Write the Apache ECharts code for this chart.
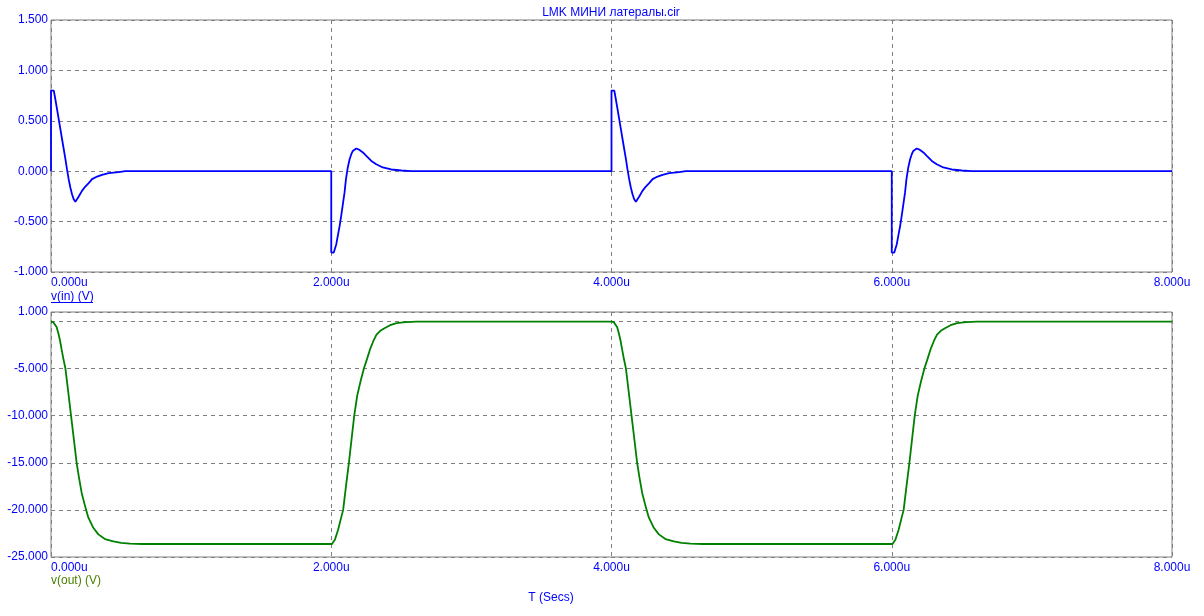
<!DOCTYPE html>
<html>
<head>
<meta charset="utf-8">
<script src="https://cdn.jsdelivr.net/npm/echarts@6/dist/echarts.min.js"></script>
<style>
html,body{margin:0;padding:0;background:#fff;}
#chart{width:1204px;height:616px;}
</style>
</head>
<body>
<div id="chart"></div>
<script>
// ---- data (time in µs, volts) ----
const xTicks = [0, 2, 4, 6, 8];
const vinTicks = [-1, -0.5, 0, 0.5, 1, 1.5];
const voutTicks = [-25, -20, -15, -10, -5, 1];

const vinPulse0 = [[0,0],[0,0.80],[0.01,0.81],[0.02,0.80],[0.031,0.714],[0.043,0.615],[0.055,0.516],[0.067,0.417],[0.079,0.317],[0.091,0.218],[0.103,0.119],[0.114,0.02],[0.126,-0.079],[0.138,-0.162],[0.15,-0.228],[0.162,-0.278],[0.174,-0.304],[0.186,-0.298],[0.198,-0.251],[0.221,-0.195],[0.245,-0.152],[0.269,-0.119],[0.293,-0.079],[0.329,-0.053],[0.364,-0.036],[0.412,-0.02],[0.483,-0.01],[0.53,0]];
const vinPulse2 = [[2,0],[2,-0.807],[2.018,-0.807],[2.024,-0.79],[2.036,-0.724],[2.047,-0.64],[2.059,-0.549],[2.071,-0.443],[2.083,-0.327],[2.095,-0.211],[2.105,-0.079],[2.118,0.037],[2.131,0.119],[2.143,0.169],[2.154,0.201],[2.166,0.218],[2.178,0.225],[2.19,0.222],[2.202,0.211],[2.226,0.186],[2.25,0.152],[2.286,0.102],[2.321,0.069],[2.368,0.037],[2.428,0.017],[2.5,0.007],[2.57,0]];
const vinPulse4 = [[4,0],[4,0.80],[4.01,0.81],[4.02,0.80],[4.031,0.714],[4.043,0.615],[4.055,0.516],[4.067,0.417],[4.079,0.317],[4.091,0.218],[4.103,0.119],[4.114,0.02],[4.126,-0.079],[4.138,-0.162],[4.15,-0.228],[4.162,-0.278],[4.174,-0.304],[4.186,-0.298],[4.198,-0.251],[4.221,-0.195],[4.245,-0.152],[4.269,-0.119],[4.293,-0.079],[4.329,-0.053],[4.364,-0.036],[4.412,-0.02],[4.483,-0.01],[4.53,0]];
const vinPulse6 = [[6,0],[6,-0.807],[6.018,-0.807],[6.024,-0.79],[6.036,-0.724],[6.047,-0.64],[6.059,-0.549],[6.071,-0.443],[6.083,-0.327],[6.095,-0.211],[6.105,-0.079],[6.118,0.037],[6.131,0.119],[6.143,0.169],[6.154,0.201],[6.166,0.218],[6.178,0.225],[6.19,0.222],[6.202,0.211],[6.226,0.186],[6.25,0.152],[6.286,0.102],[6.321,0.069],[6.368,0.037],[6.428,0.017],[6.5,0.007],[6.57,0],[8,0]];

const voutFall0 = [[0,-0.05],[0.015,-0.06],[0.028,-0.2],[0.04,-0.6],[0.052,-1.23],[0.064,-2.0],[0.076,-3.0],[0.09,-4.1],[0.103,-5.0],[0.124,-7.6],[0.143,-10.0],[0.163,-12.5],[0.183,-15.0],[0.2,-16.6],[0.219,-18.2],[0.243,-19.6],[0.266,-20.8],[0.302,-21.9],[0.338,-22.6],[0.385,-23.1],[0.445,-23.35],[0.5,-23.5],[0.564,-23.59],[0.65,-23.62]];
const voutRise2 = [[2.005,-23.62],[2.012,-23.5],[2.026,-23.16],[2.049,-22.1],[2.073,-20.69],[2.085,-20.0],[2.105,-17.5],[2.126,-15.0],[2.145,-12.5],[2.164,-10.0],[2.185,-7.9],[2.21,-6.3],[2.233,-5.0],[2.255,-4.0],[2.276,-3.0],[2.3,-2.1],[2.323,-1.41],[2.35,-1.0],[2.383,-0.7],[2.42,-0.4],[2.466,-0.17],[2.53,-0.08],[2.61,-0.03]];
const voutFall4 = [[4.0,-0.03],[4.015,-0.06],[4.028,-0.2],[4.04,-0.6],[4.052,-1.23],[4.064,-2.0],[4.076,-3.0],[4.09,-4.1],[4.103,-5.0],[4.124,-7.6],[4.143,-10.0],[4.163,-12.5],[4.183,-15.0],[4.2,-16.6],[4.219,-18.2],[4.243,-19.6],[4.266,-20.8],[4.302,-21.9],[4.338,-22.6],[4.385,-23.1],[4.445,-23.35],[4.5,-23.5],[4.564,-23.59],[4.65,-23.62]];
const voutRise6 = [[6.005,-23.62],[6.012,-23.5],[6.026,-23.16],[6.049,-22.1],[6.073,-20.69],[6.085,-20.0],[6.105,-17.5],[6.126,-15.0],[6.145,-12.5],[6.164,-10.0],[6.185,-7.9],[6.21,-6.3],[6.233,-5.0],[6.255,-4.0],[6.276,-3.0],[6.3,-2.1],[6.323,-1.41],[6.35,-1.0],[6.383,-0.7],[6.42,-0.4],[6.466,-0.17],[6.53,-0.08],[6.61,-0.03],[8,-0.03]];

const vinData = vinPulse0.concat(vinPulse2, vinPulse4, vinPulse6);
const voutData = voutFall0.concat(voutRise2, voutFall4, voutRise6);

// ---- chart ----
const FONT = '"Liberation Sans", Arial, sans-serif';
const BLUE = '#0000ff';
const GRAY = '#808080';
const chart = echarts.init(document.getElementById('chart'), null, {renderer: 'canvas'});

function xAxis(gi) {
  return {
    type: 'value', gridIndex: gi, min: xTicks[0], max: xTicks[xTicks.length - 1], interval: 2,
    axisLine: {show: false}, axisTick: {show: false},
    splitLine: {show: true, lineStyle: {color: GRAY, type: [4, 4], width: 1}},
    axisLabel: {
      color: BLUE, fontFamily: FONT, fontSize: 12, margin: 5,
      alignMinLabel: 'left', alignMaxLabel: 'center',
      formatter: v => xTicks.includes(v) ? v.toFixed(3) + 'u' : ''
    }
  };
}

const txt = (c) => ({color: c, fontFamily: FONT, fontSize: 12, fontWeight: 'normal'});

const option = {
  animation: false,
  backgroundColor: '#fff',
  title: [
    {text: 'LMK МИНИ латералы.cir', left: 611, top: 7, textAlign: 'center', padding: 0, textStyle: txt(BLUE)},
    {text: 'v(in) (V)', left: 51, top: 291, padding: 0, textStyle: txt(BLUE)},
    {text: 'v(out) (V)', left: 51, top: 575, padding: 0, textStyle: txt('#4a8000')},
    {text: 'T (Secs)', left: 551, top: 592, textAlign: 'center', padding: 0, textStyle: txt(BLUE)}
  ],
  graphic: [
    {type: 'line', shape: {x1: 51, y1: 302.5, x2: 93, y2: 302.5}, style: {stroke: BLUE, lineWidth: 1}}
  ],
  grid: [
    {left: 51, top: 20, width: 1121, height: 252, show: true, borderColor: GRAY, borderWidth: 1, backgroundColor: 'transparent'},
    {left: 51, top: 312, width: 1121, height: 245, show: true, borderColor: GRAY, borderWidth: 1, backgroundColor: 'transparent'}
  ],
  xAxis: [xAxis(0), xAxis(1)],
  yAxis: [
    {type: 'value', gridIndex: 0, min: -1, max: 1.5, interval: 0.5,
     axisLine: {show: false}, axisTick: {show: false},
     splitLine: {show: true, lineStyle: {color: GRAY, type: [4, 4], width: 1}},
     axisLabel: {color: BLUE, fontFamily: FONT, fontSize: 12, margin: 3,
       formatter: v => vinTicks.some(t => Math.abs(t - v) < 1e-9) ? v.toFixed(3) : ''}},
    {type: 'value', gridIndex: 1, min: -25, max: 1, interval: 5,
     axisLine: {show: false}, axisTick: {show: false},
     splitLine: {show: true, lineStyle: {color: GRAY, type: [4, 4], width: 1}},
     axisLabel: {color: BLUE, fontFamily: FONT, fontSize: 12, margin: 3,
       formatter: v => voutTicks.some(t => Math.abs(t - v) < 1e-9) ? v.toFixed(3) : ''}}
  ],
  series: [
    {name: 'v(in)', type: 'line', xAxisIndex: 0, yAxisIndex: 0, data: vinData,
     showSymbol: false, symbol: 'none', lineStyle: {color: '#0000ff', width: 1.8}, z: 5},
    {name: 'v(out)', type: 'line', xAxisIndex: 1, yAxisIndex: 1, data: voutData,
     showSymbol: false, symbol: 'none', lineStyle: {color: '#008000', width: 1.8}, z: 5}
  ]
};
chart.setOption(option);
</script>
</body>
</html>
